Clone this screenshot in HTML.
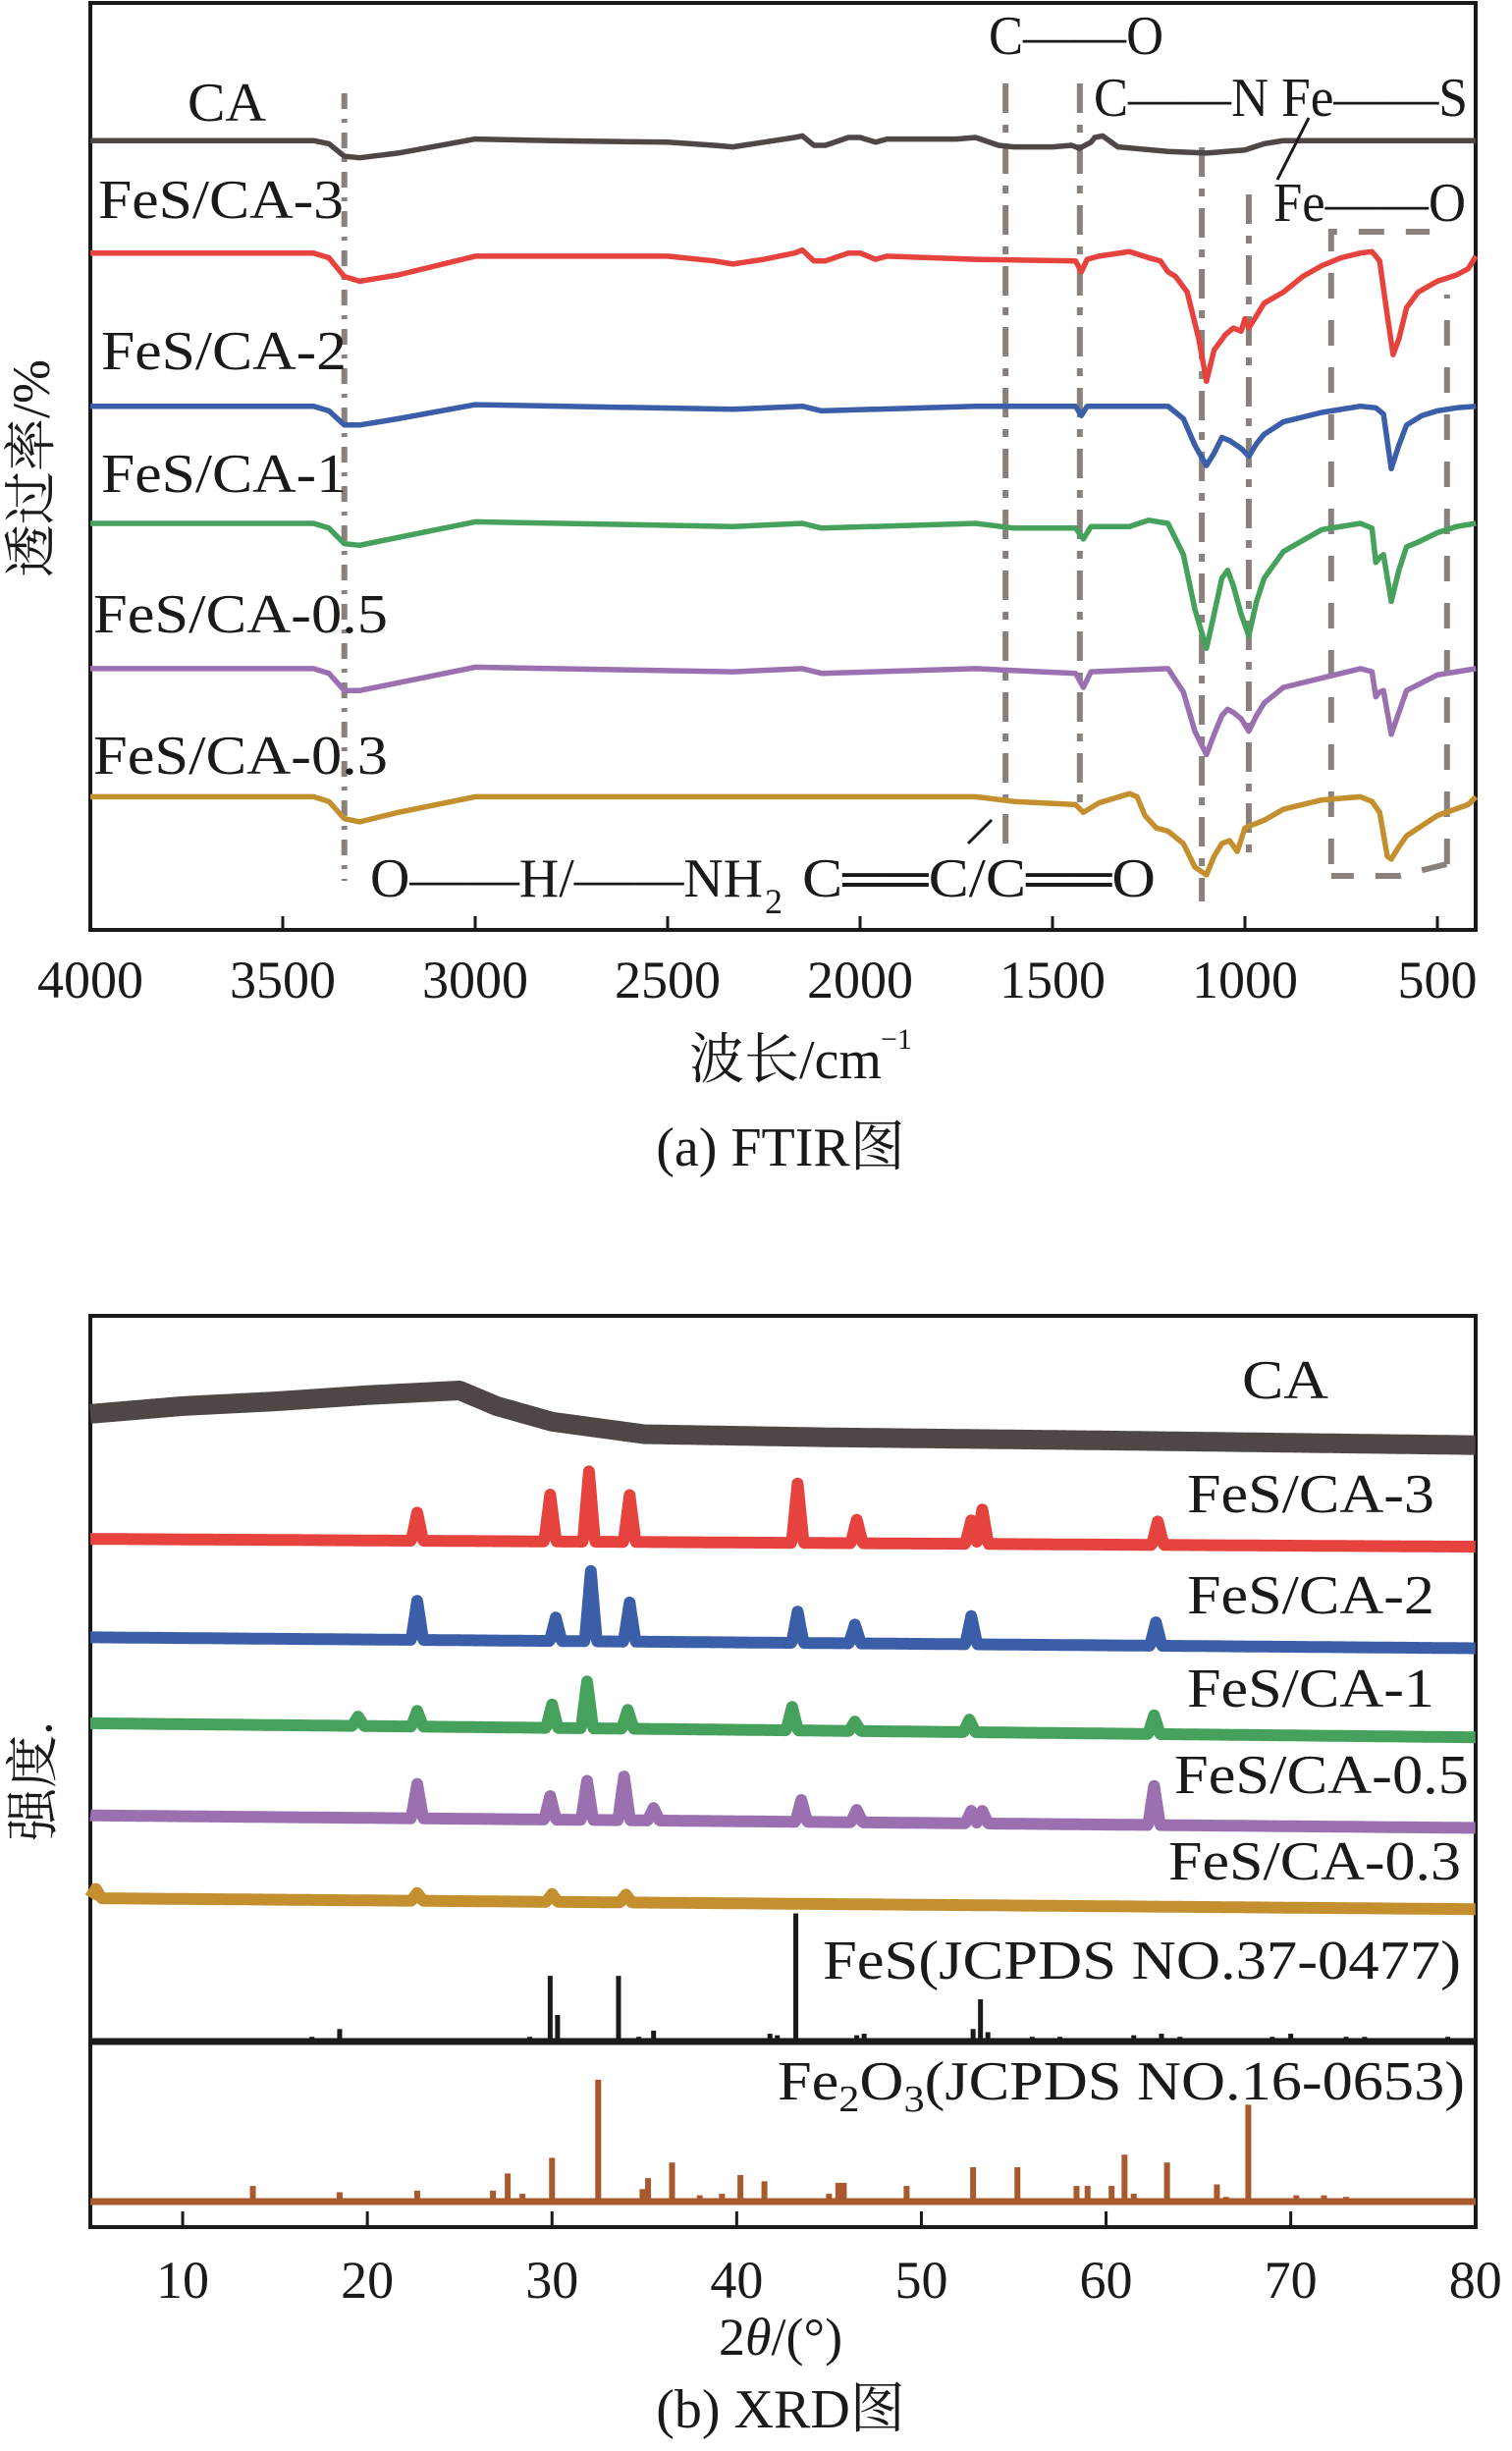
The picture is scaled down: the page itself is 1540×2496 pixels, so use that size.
<!DOCTYPE html>
<html><head><meta charset="utf-8"><style>
html,body{margin:0;padding:0;background:#fff}
svg{display:block}
text{font-family:"Liberation Serif","Noto Serif CJK SC",serif;fill:#1a1a1a}
</style></head><body>
<svg id="fig" width="1540" height="2496" viewBox="0 0 1540 2496" xmlns="http://www.w3.org/2000/svg">
<g id="ftir"></g>
<g id="xrd"></g>
</svg>
<script>
// ===== FTIR data (depth of band below each trace's baseline, a.u.) =====
const ftirNames = ["CA","FeS/CA-3","FeS/CA-2","FeS/CA-1","FeS/CA-0.5","FeS/CA-0.3"];
const ftirColors = ["#4f4746","#e6433f","#3b5ea9","#45a15b","#9a70b1","#c4902f"];
const ftirOffsets = [90,162,260,335,428,510];
const wnCA = [4000,3420,3380,3340,3300,3200,3000,2800,2500,2380,2330,2250,2170,2150,2120,2090,2030,2000,1960,1930,1750,1700,1640,1600,1500,1450,1430,1400,1390,1370,1330,1200,1100,1000,950,900,850,700,400];
const dCA = [0,0,2,10,11,8,-1,0,1,3,4,1,-2,-3,3,3,-2,-2,1,-1,-1,-2,3,4,4,3,5,1,-2,-3,4,7,8,6,2,0,0,0,0];
const wnF3 = [4000,3420,3380,3340,3300,3200,3000,2500,2380,2330,2250,2170,2150,2120,2090,2030,2000,1960,1930,1700,1440,1425,1410,1380,1300,1250,1220,1200,1180,1150,1120,1100,1080,1050,1030,1010,1000,990,970,950,900,850,800,750,700,670,650,630,615,600,580,550,500,450,420,400];
const dF3 = [0,0,3,15,18,14,2,2,5,7,4,0,-2,5,5,0,0,4,2,4,5,12,4,2,-1,3,5,12,15,25,55,82,62,52,48,50,42,48,40,32,25,15,8,3,0,-1,5,40,65,55,35,25,18,14,10,2];
const wnF2 = [4000,3420,3380,3340,3300,3200,3000,2330,2150,2100,1700,1440,1425,1410,1200,1160,1130,1100,1080,1060,1040,1010,990,970,950,900,800,700,660,640,620,600,580,540,500,450,400];
const dF2 = [0,0,3,12,12,8,-1,2,0,3,0,0,6,0,0,8,25,38,30,20,22,27,32,24,18,10,4,0,1,5,40,25,12,6,3,1,0];
const wnF1 = [4000,3420,3380,3340,3300,3200,3000,2330,2150,2100,1700,1600,1440,1420,1400,1300,1250,1200,1160,1130,1100,1080,1060,1045,1030,1010,990,970,950,900,800,700,670,660,650,640,620,600,580,550,500,450,400];
const dF1 = [0,0,3,13,14,9,-1,2,0,3,0,3,3,10,2,2,-2,0,20,55,80,58,35,30,40,58,72,50,35,18,4,0,3,25,22,20,50,30,15,12,6,2,0];
const wnF05 = [4000,3420,3380,3340,3300,3200,3000,2330,2150,2100,1700,1440,1420,1400,1200,1160,1130,1100,1080,1060,1045,1030,1010,990,970,950,900,700,670,660,650,640,620,600,580,500,400];
const dF05 = [0,0,3,14,14,9,-1,2,0,3,0,3,12,2,0,15,40,55,42,30,26,28,32,40,30,22,12,0,2,18,15,14,42,28,14,4,0];
const wnF03 = [4000,3420,3380,3340,3300,3200,3000,2500,1700,1600,1440,1420,1380,1300,1280,1260,1230,1200,1160,1130,1100,1080,1060,1040,1020,1000,980,950,900,800,700,670,650,630,620,600,580,500,420,400];
const dF03 = [0,0,3,14,16,10,0,0,0,3,5,10,4,-2,0,12,20,22,30,45,50,38,30,28,35,20,18,15,8,2,0,3,10,38,40,32,25,12,5,0];
const ftirTicks = [4000,3500,3000,2500,2000,1500,1000,500];
const ftirVLines = [3340,1622,1429,1112,990];

// ===== XRD data =====
const xrdNames = ["CA","FeS/CA-3","FeS/CA-2","FeS/CA-1","FeS/CA-0.5","FeS/CA-0.3"];
const xrdColors = ["#4f4746","#e6433f","#3b5ea9","#45a15b","#9a70b1","#c4902f"];
const caBgAngle = [5,10,15,20,25,27,30,35,45,60,80];
const caBgLevel = [905,900,897,893,890,900,910,918,920,922,925];
const xrdBaseStart = [905,985,1048,1103,1162,1215];
const xrdBaseEnd = [925,990,1055,1112,1170,1222];
const pk3Pos = [22.7,29.9,32.0,34.2,43.3,46.5,52.7,53.3,62.8];
const pk3Amp = [18,30,45,30,38,15,15,22,15];
const pk2Pos = [22.7,30.2,32.1,34.2,43.3,46.4,52.7,62.7];
const pk2Amp = [25,15,45,25,20,12,18,15];
const pk1Pos = [19.5,22.7,30.0,31.9,34.1,43.0,46.4,52.6,62.6];
const pk1Amp = [6,10,15,30,12,15,6,8,12];
const pk05Pos = [22.7,29.9,31.9,33.9,35.5,43.5,46.5,52.7,53.3,62.6];
const pk05Amp = [22,15,25,28,8,14,8,8,8,25];
const pk03Pos = [5.3,22.7,30.0,34.0];
const pk03Amp = [6,5,5,5];
const fesPos = [15,17,18.5,28.8,29.9,30.3,33.6,34.7,35.5,41.8,42.2,43.2,46.5,46.9,49.6,52.8,53.2,53.6,56,57.5,61.5,63,64,65,69,70,73,74,78.5];
const fesInt = [2,3,8,3,42,17,42,3,7,5,4,82,4,5,2,8,27,6,3,3,4,5,3,2,3,5,3,3,3];
const fe2o3Pos = [13.8,18.5,22.7,26.8,27.6,28.4,30.0,32.5,34.9,35.2,36.5,38.0,39.2,40.2,41.5,45.0,45.5,45.8,49.2,50.3,52.8,55.2,58.4,59.0,60.3,61.0,61.5,63.3,66.0,66.5,67.7,70.3,71.0,71.8,73.0,75.0];
const fe2o3Int = [10,6,7,7,18,5,28,78,8,15,25,4,5,17,13,5,12,12,10,2,22,22,10,10,10,30,5,25,11,3,62,4,2,4,3,2];
const xrdTicks = [10,20,30,40,50,60,70,80];

const K = 1.591;
const NS = "http://www.w3.org/2000/svg";
function mk(parent, tag, attrs, txt){
  const e = document.createElementNS(NS, tag);
  for (const k in attrs) e.setAttribute(k, attrs[k]);
  if (txt !== undefined) e.textContent = txt;
  parent.appendChild(e);
  return e;
}

// ================= FTIR =================
const F = document.getElementById('ftir');
const fL = 92, fR = 1503, fT = 3, fB = 947;
const fx = w => fL + (4000 - w) * 0.392;
const fy = (off, d) => (off + d) * K;

const ftirBox = mk(F,'rect',{x:fL,y:fT,width:fR-fL,height:fB-fT,fill:'none',stroke:'#1a1a1a','stroke-width':4});



const vStyles = [
  {dash:'16 10 4 10', y1:95, y2:897},
  {dash:'30 12 8 12', y1:85, y2:860},
  {dash:'30 12 8 12', y1:85, y2:825},
  {dash:'30 12 8 12', y1:150, y2:918},
  {dash:'30 12 8 12', y1:198, y2:880}
];
ftirVLines.forEach((w,i)=>{
  const l = mk(F,'line',{x1:fx(w),x2:fx(w),y1:vStyles[i].y1,y2:vStyles[i].y2,stroke:'#8a817d','stroke-width':6,'stroke-dasharray':vStyles[i].dash});
  
  
});
const feBox = mk(F,'path',{d:`M${fx(776)},${880} L${fx(776)},${236} L${fx(520)},${236} M${fx(475)},${880} L${fx(475)},${300} M${fx(476)},${880} L${fx(600)},${892} L${fx(776)},${892}`,fill:'none',stroke:'#8a817d','stroke-width':6,'stroke-dasharray':'26 22'});



const ftirW = [wnCA,wnF3,wnF2,wnF1,wnF05,wnF03];
const ftirD = [dCA,dF3,dF2,dF1,dF05,dF03];
ftirNames.forEach((n,i)=>{
  const pts = ftirW[i].map((w,j)=>fx(w).toFixed(1)+','+fy(ftirOffsets[i],ftirD[i][j]).toFixed(1)).join(' ');
  const p = mk(F,'polyline',{points:pts,fill:'none',stroke:ftirColors[i],'stroke-width':5.5,'stroke-linejoin':'round'});
  
  
});

const fLab = [[191,123,'CA',80],[100,222,'FeS/CA-3',250],[103,376,'FeS/CA-2',250],[103,501,'FeS/CA-1',250],[95,644,'FeS/CA-0.5',300],[95,788,'FeS/CA-0.3',300]];
fLab.forEach(a=>{
  const t = mk(F,'text',{x:a[0],y:a[1],'font-size':56,textLength:a[3],lengthAdjust:'spacingAndGlyphs'},a[2]);
  
  
});
const ann = [[1007,55,'C——O',178],[1114,118,'C——N',178],[1305,118,'Fe——S',190],[1297,225,'Fe——O',196],[377,913,'O——H/——NH',400],[817,913,'C══C/C══O',360]];
ann.forEach(a=>{
  const t = mk(F,'text',{x:a[0],y:a[1],'font-size':56,textLength:a[3],lengthAdjust:'spacingAndGlyphs'},a[2]);
  
  
});
const sub2 = mk(F,'text',{x:779,y:930,'font-size':36},'2');


const s1 = mk(F,'line',{x1:1333,y1:120,x2:1301,y2:183,stroke:'#1a1a1a','stroke-width':3});


const s2 = mk(F,'line',{x1:1010,y1:835,x2:986,y2:859,stroke:'#1a1a1a','stroke-width':3});



ftirTicks.forEach(w=>{
  const tk = mk(F,'line',{x1:fx(w),x2:fx(w),y1:fB,y2:fB-14,stroke:'#1a1a1a','stroke-width':3});
  
  
  const tl = mk(F,'text',{x:fx(w),y:1016,'font-size':54,'text-anchor':'middle'},String(w));
  
  
});
const fxt = mk(F,'text',{x:800,y:1098,'font-size':56,'text-anchor':'middle'},'波长/cm');


const fxs = mk(F,'text',{x:897,y:1068,'font-size':30},'−1');


const fyt = mk(F,'text',{x:0,y:0,'font-size':54,'text-anchor':'middle',transform:'translate(50,477) rotate(-90)'},'透过率/%');


const fcap = mk(F,'text',{x:795,y:1187,'font-size':56,'text-anchor':'middle'},'(a) FTIR图');



// ================= XRD =================
const X = document.getElementById('xrd');
const xL = 92, xR = 1503, xT = 1340, xB = 2268, xDiv = 2079, feBase = 2242;
const xx = t => xL + (t - 5) * 18.81;
const frame = mk(X,'rect',{x:xL,y:xT,width:xR-xL,height:xB-xT,fill:'none',stroke:'#1a1a1a','stroke-width':4});



function interp(xs, ys, v){
  for (let i=0;i<xs.length-1;i++){ if (v<=xs[i+1]){ const f=(v-xs[i])/(xs[i+1]-xs[i]); return ys[i]+f*(ys[i+1]-ys[i]); } }
  return ys[ys.length-1];
}
const pkPos = [[],pk3Pos,pk2Pos,pk1Pos,pk05Pos,pk03Pos];
const pkAmp = [[],pk3Amp,pk2Amp,pk1Amp,pk05Amp,pk03Amp];
xrdNames.forEach((n,i)=>{
  const pts = [];
  for (let t=5; t<=80.001; t+=0.05){
    let base = i===0 ? interp(caBgAngle, caBgLevel, t) : xrdBaseStart[i] + (xrdBaseEnd[i]-xrdBaseStart[i])*(t-5)/75;
    let h = 0;
    pkPos[i].forEach((p,j)=>{ const d=Math.abs(t-p); if (d<0.32) h=Math.max(h,pkAmp[i][j]*(1-d/0.32)); });
    pts.push(xx(t).toFixed(1)+','+((base-h)*K).toFixed(1));
  }
  const p = mk(X,'polyline',{points:pts.join(' '),fill:'none',stroke:xrdColors[i],'stroke-width':i===0?20:12,'stroke-linejoin':'round'});
  
  
});
const xLab = [[1265,1424,'CA',88],[1209,1540,'FeS/CA-3',252],[1209,1643,'FeS/CA-2',252],[1209,1738,'FeS/CA-1',252],[1196,1826,'FeS/CA-0.5',300],[1190,1914,'FeS/CA-0.3',298]];
xLab.forEach(a=>{
  const t = mk(X,'text',{x:a[0],y:a[1],'font-size':56,textLength:a[3],lengthAdjust:'spacingAndGlyphs'},a[2]);
  
  
});
fesPos.forEach((p,j)=>{
  const r = mk(X,'rect',{x:xx(p)-2.5,y:xDiv-fesInt[j]*K,width:5,height:fesInt[j]*K,fill:'#1a1a1a'});
  
  
});
const dv = mk(X,'line',{x1:xL,x2:xR,y1:xDiv,y2:xDiv,stroke:'#1a1a1a','stroke-width':7});


fe2o3Pos.forEach((p,j)=>{
  const r = mk(X,'rect',{x:xx(p)-3,y:feBase-fe2o3Int[j]*K,width:6,height:fe2o3Int[j]*K,fill:'#a85a2e'});
  
  
});
const fb = mk(X,'line',{x1:xL,x2:xR,y1:feBase,y2:feBase,stroke:'#a85a2e','stroke-width':7});


const fesL = mk(X,'text',{x:838,y:2015,'font-size':56,textLength:650,lengthAdjust:'spacingAndGlyphs'},'FeS(JCPDS NO.37-0477)');


const feoL = mk(X,'text',{x:792,y:2138,'font-size':56,textLength:700,lengthAdjust:'spacingAndGlyphs'},'');


feoL.innerHTML = 'Fe<tspan font-size="38" dy="12">2</tspan><tspan dy="-12">O</tspan><tspan font-size="38" dy="12">3</tspan><tspan dy="-12">(JCPDS NO.16-0653)</tspan>';

xrdTicks.forEach(t=>{
  const tk = mk(X,'line',{x1:xx(t),x2:xx(t),y1:xB,y2:xB-16,stroke:'#1a1a1a','stroke-width':3});
  
  
  const tl = mk(X,'text',{x:xx(t),y:2340,'font-size':54,'text-anchor':'middle'},String(t));
  
  
});
const xt = mk(X,'text',{x:795,y:2398,'font-size':54,'text-anchor':'middle'},'');


xt.innerHTML = '2<tspan font-style="italic">θ</tspan>/(°)';
const xyt = mk(X,'text',{x:0,y:0,'font-size':54,'text-anchor':'middle',transform:'translate(52,1814) rotate(-90)'},'强度.');


const xcap = mk(X,'text',{x:795,y:2472,'font-size':56,'text-anchor':'middle'},'(b) XRD图');


</script>
</body></html>
